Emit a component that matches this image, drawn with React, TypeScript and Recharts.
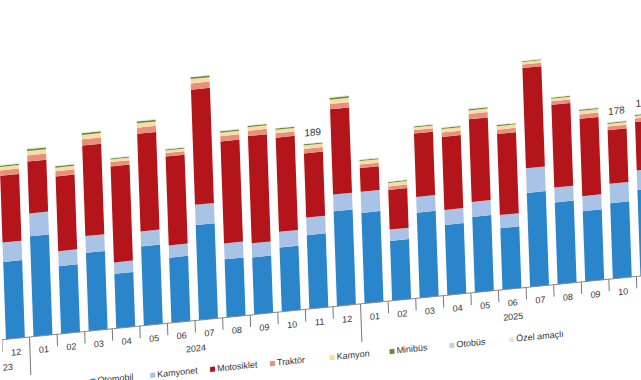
import React from 'react';
import { BarChart, Bar, XAxis, YAxis, LabelList } from 'recharts';

// Monthly registrations (thousands), Dec 2023 .. Nov 2025
const months = ['12', '01', '02', '03', '04', '05', '06', '07', '08', '09', '10', '11', '12',
  '01', '02', '03', '04', '05', '06', '07', '08', '09', '10', '11'];
const years = ['2023', '2024', '2024', '2024', '2024', '2024', '2024', '2024', '2024', '2024', '2024', '2024', '2024',
  '2025', '2025', '2025', '2025', '2025', '2025', '2025', '2025', '2025', '2025', '2025'];

const otomobil = [88, 114, 77, 89, 62, 90, 74, 108, 66, 65, 73, 84, 108, 103, 68, 97, 80, 86, 70, 107, 93, 80, 86, 98];
const kamyonet = [22, 26, 17, 19, 13, 17, 14, 23, 18, 16, 18, 20, 19, 24, 13, 18, 17, 17, 15, 28, 17, 17, 22, 22];
const motosiklet = [76, 59, 85, 103, 109, 111, 101, 131, 116, 122, 107, 73, 97, 27, 45, 72, 83, 94, 92, 114, 94, 88, 61, 55];
const traktor = [6, 7, 6, 7, 5, 7, 4, 7, 6, 6, 5, 5, 6, 4, 4, 4, 5, 6, 5, 4, 4, 5, 4, 4];
const kamyon = [4, 5, 4, 5, 3, 5, 3, 5, 4, 4, 4, 4, 5, 4, 4, 3, 4, 4, 4, 3, 3, 4, 3, 3];
const minibus = [1.5, 2, 1.5, 2, 1.2, 2, 1.2, 2, 1.5, 1.5, 1.3, 1.3, 2, 1.2, 1.2, 1.2, 1.3, 1.5, 1.3, 0.8, 1.2, 1.3, 1.2, 1.2];
const otobus = [0.4, 0.4, 0.4, 0.4, 0.3, 0.4, 0.3, 0.4, 0.4, 0.4, 0.3, 0.3, 0.4, 0.3, 0.3, 0.3, 0.3, 0.4, 0.3, 0.3, 0.3, 0.3, 0.4, 0.4];
const ozelAmacli = [0.6, 0.6, 0.6, 0.6, 0.5, 0.6, 0.5, 0.6, 0.6, 0.6, 0.5, 0.5, 0.6, 0.5, 0.5, 0.5, 0.5, 0.6, 0.5, 0.5, 0.5, 0.5, 0.6, 0.6];
const totalLabels = ['', '', '', '', '', '', '', '', '', '', '', '189', '', '', '', '', '', '', '', '', '', '', '178', '184'];

// year captions: first/last month index of each year (Nov 2023 lies outside the frame)
const yearSpans = [
  { year: '2023', first: -1, last: 0 },
  { year: '2024', first: 1, last: 12 },
  { year: '2025', first: 13, last: 23 },
];

const series = [
  { key: 'otomobil', name: 'Otomobil', color: '#2B85CB' },
  { key: 'kamyonet', name: 'Kamyonet', color: '#A8C3E6' },
  { key: 'motosiklet', name: 'Motosiklet', color: '#B3151A' },
  { key: 'traktor', name: 'Traktör', color: '#E98F7B' },
  { key: 'kamyon', name: 'Kamyon', color: '#F8DDA6' },
  { key: 'minibus', name: 'Minibüs', color: '#6C8A45' },
  { key: 'otobus', name: 'Otobüs', color: '#C6D0DC' },
  { key: 'ozelAmacli', name: 'Özel amaçlı', color: '#E4EDD2' },
];

const data = months.map((m, i) => ({
  month: m,
  year: years[i],
  otomobil: otomobil[i],
  kamyonet: kamyonet[i],
  motosiklet: motosiklet[i],
  traktor: traktor[i],
  kamyon: kamyon[i],
  minibus: minibus[i],
  otobus: otobus[i],
  ozelAmacli: ozelAmacli[i],
  label: totalLabels[i],
}));

const FONT = '"Liberation Sans", Arial, sans-serif';
const PLOT_W = 664;
const BAND = PLOT_W / months.length;

const MonthTick = (props: any) => {
  const { x, y, payload } = props;
  const i = payload.index;
  const left = x - BAND / 2;
  const yearStart = months[i] === '01';
  const captions = yearSpans
    .filter(s => Math.floor((s.first + s.last) / 2) === i || (i === 0 && s.first < 0))
    .map(s => ({ year: s.year, cx: x + ((s.first + s.last) / 2 - i) * BAND }));
  return (
    <g>
      <line x1={left} y1={y} x2={left} y2={y + (yearStart ? 38 : 12)} stroke="#777" strokeWidth={1} />
      <text x={x} y={y + 17} textAnchor="middle" fontSize={9} fill="#333" fontFamily={FONT}>
        {payload.value}
      </text>
      {captions.map(c => (
        <text key={c.year} x={c.cx} y={y + 31} textAnchor="middle" fontSize={9} fill="#333" fontFamily={FONT}>
          {c.year}
        </text>
      ))}
    </g>
  );
};

const App: React.FC = () => {
  return (
    <div style={{ position: 'fixed', left: 0, top: 0, width: 641, height: 380, overflow: 'hidden', background: '#fff' }}>
      <div
        style={{
          position: 'absolute',
          left: 0,
          top: 0,
          width: 641,
          height: 380,
          transform: 'rotate(-2deg) skewY(-3.7deg)',
          transformOrigin: '320px 308px',
        }}
      >
        <div style={{ position: 'absolute', left: 1, top: 0 }}>
          <BarChart
            width={PLOT_W}
            height={348}
            data={data}
            margin={{ top: 44, right: 0, bottom: 0, left: 0 }}
            barSize={19}
          >
            <XAxis
              dataKey="month"
              interval={0}
              height={40}
              tickSize={0}
              tickMargin={0}
              axisLine={{ stroke: '#888' }}
              tick={<MonthTick />}
            />
            <YAxis hide domain={[0, 300]} />
            {series.map((s, idx) => (
              <Bar
                key={s.key}
                dataKey={s.key}
                name={s.name}
                stackId="a"
                fill={s.color}
                isAnimationActive={false}
              >
                {idx === series.length - 1 && (
                  <LabelList dataKey="label" position="top" offset={7} fontSize={10} fill="#333" fontFamily={FONT} />
                )}
              </Bar>
            ))}
          </BarChart>
        </div>
        {/* Legend */}
        <div
          style={{
            position: 'absolute',
            left: 88,
            top: 353,
            display: 'flex',
            fontFamily: FONT,
            fontSize: 9,
            color: '#333',
          }}
        >
          {series.map(s => (
            <div key={s.key} style={{ width: 60, display: 'flex', alignItems: 'center', whiteSpace: 'nowrap' }}>
              <span style={{ width: 5, height: 5, background: s.color, marginRight: 2, display: 'inline-block' }} />
              {s.name}
            </div>
          ))}
        </div>
      </div>
    </div>
  );
};

export default App;
